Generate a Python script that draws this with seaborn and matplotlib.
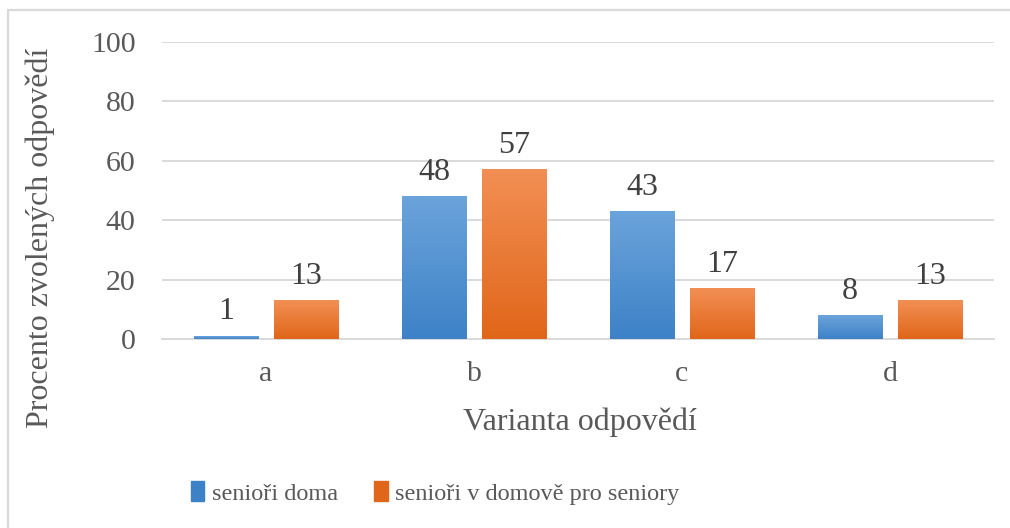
import matplotlib
matplotlib.use("Agg")
import matplotlib.pyplot as plt
import matplotlib.lines as mlines
import matplotlib.patches as mpatches
import numpy as np
import pandas as pd
import seaborn as sns

# data
varianty = ['a', 'b', 'c', 'd']
seniori_doma = [1, 48, 43, 8]
seniori_domov = [13, 57, 17, 13]
skupiny = ['senioři doma', 'senioři v domově pro seniory']

df = pd.DataFrame({
    'varianta': varianty * 2,
    'procento': seniori_doma + seniori_domov,
    'skupina': [skupiny[0]] * 4 + [skupiny[1]] * 4,
})

sns.set_style('white')
plt.rcParams['font.family'] = ['Liberation Serif', 'DejaVu Serif']
seda = '#595959'
mrizka = '#d9d9d9'

# gradient colours (top, bottom)
barvy = [((0.42, 0.64, 0.86), (0.24, 0.51, 0.78)),
         ((0.95, 0.56, 0.33), (0.88, 0.40, 0.10))]

fig = plt.figure(figsize=(10.1, 5.28), dpi=100)
ax = fig.add_axes([162 / 1010, 1 - 339 / 528, (994 - 162) / 1010, (339 - 42) / 528])

sns.barplot(data=df, x='varianta', y='procento', hue='skupina',
            palette=[barvy[0][1], barvy[1][1]], width=0.77, gap=0.19,
            legend=False, ax=ax, zorder=3)

ax.set_ylim(0, 100)
ax.set_yticks(range(0, 101, 20))
xlim = ax.get_xlim()

# vertical gradient in each bar
for cont, (top, bot) in zip(ax.containers, barvy):
    for rect in cont:
        x, w, h = rect.get_x(), rect.get_width(), rect.get_height()
        t = np.linspace(0, 1, 100)[:, None, None]
        img = np.array(top)[None, None, :] * (1 - t) + np.array(bot)[None, None, :] * t
        ax.imshow(img, extent=[x, x + w, 0, h], aspect='auto', origin='upper',
                  zorder=4, interpolation='bilinear')
    ax.bar_label(cont, padding=7, fontsize=23, color='#404040', zorder=5)

ax.set_xlim(xlim)
ax.set_ylim(0, 100)

ax.grid(axis='y', color=mrizka, lw=1.4, zorder=0)
ax.set_axisbelow(True)
for s in ['top', 'right', 'left']:
    ax.spines[s].set_visible(False)
ax.spines['bottom'].set_color(mrizka)
ax.spines['bottom'].set_linewidth(1.4)
ax.tick_params(axis='y', length=0, pad=19, labelsize=21.5, labelcolor=seda)
ax.tick_params(axis='x', length=0, pad=16, labelsize=21.5, labelcolor=seda)
ax.set_xlabel('')
ax.set_ylabel('')

fig.text(580 / 1010, 1 - 422 / 528, 'Varianta odpovědí', ha='center', va='center',
         fontsize=23, color=seda)
fig.text(40 / 1010, 1 - 238 / 528, 'Procento zvolených odpovědí', ha='center',
         va='center', rotation=90, fontsize=23, color=seda)

handles = [mpatches.Patch(color=barvy[0][1]), mpatches.Patch(color=barvy[1][1])]
leg = fig.legend(handles, skupiny, loc='center', bbox_to_anchor=(435 / 1010, 1 - 493 / 528),
                 ncol=2, frameon=False, fontsize=17.5, handlelength=0.55, handleheight=0.9,
                 handletextpad=0.3, columnspacing=1.5)
for txt in leg.get_texts():
    txt.set_color(seda)

# chart border (only left and top edges are visible in the crop)
fig.add_artist(mlines.Line2D([8 / 1010, 8 / 1010], [0, 1 - 10 / 528],
                             transform=fig.transFigure, color=mrizka, lw=1.6))
fig.add_artist(mlines.Line2D([8 / 1010, 1], [1 - 10 / 528, 1 - 10 / 528],
                             transform=fig.transFigure, color=mrizka, lw=1.6))

fig.savefig('out.png', dpi=100)
